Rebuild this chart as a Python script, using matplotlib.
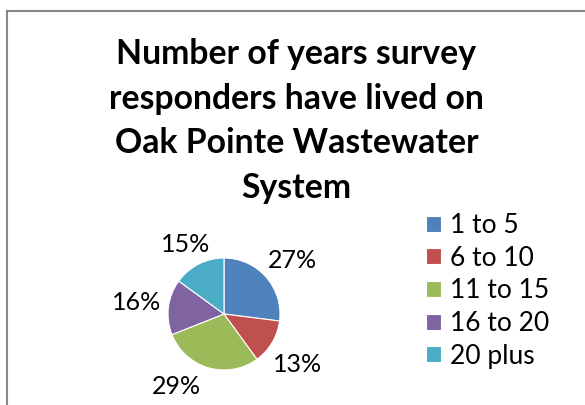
import matplotlib
matplotlib.use("Agg")
import matplotlib.pyplot as plt
from matplotlib.lines import Line2D
import numpy as np

categories = ["1 to 5", "6 to 10", "11 to 15", "16 to 20", "20 plus"]
values = [27, 13, 29, 16, 15]
colors = ["#4F81BD", "#C0504D", "#9BBB59", "#8064A2", "#4BACC6"]
title = "Number of years survey\nresponders have lived on\nOak Pointe Wastewater\nSystem"

# label placement tweaks (angle shift in degrees, radial distance)
label_shift = [-3, -4, -17, 0, 2]
label_dist = [1.55, 1.6, 1.55, 1.57, 1.42]

W, H = 585, 405
fig = plt.figure(figsize=(W / 100, H / 100), dpi=100)
fig.patch.set_facecolor("white")

FONT = "Lato"

# border (left and top)
fig.add_artist(Line2D([6.5 / W, 6.5 / W], [0, 1 - 10.5 / H], transform=fig.transFigure,
                      color="#868686", lw=1.5))
fig.add_artist(Line2D([6.5 / W, 1], [1 - 10.5 / H, 1 - 10.5 / H], transform=fig.transFigure,
                      color="#868686", lw=1.5))

# title
fig.text(296.5 / W, 1 - 38 / H, title, ha="center", va="top", fontsize=24.3,
         fontweight="bold", family=FONT, linespacing=1.49, color="black")

# pie
cx, cy, r = 224, 314, 56
ax = fig.add_axes([(cx - r) / W, (H - cy - r) / H, 2 * r / W, 2 * r / H])
wedges, texts = ax.pie(values, colors=colors, startangle=90, counterclock=False,
                       radius=1, wedgeprops=dict(edgecolor="white", linewidth=0.8))
total = float(sum(values))
for w, v, sh, d in zip(wedges, values, label_shift, label_dist):
    mid = np.deg2rad((w.theta1 + w.theta2) / 2 + sh)
    ax.text(d * np.cos(mid), d * np.sin(mid), "%d%%" % round(100 * v / total),
            ha="center", va="center", fontsize=18, family=FONT, color="black",
            clip_on=False)
ax.set_xlim(-1, 1)
ax.set_ylim(-1, 1)
ax.set_aspect("equal")
ax.axis("off")

# legend
fig.legend(wedges, categories, loc="upper left", bbox_to_anchor=(426 / W, 1 - 213 / H),
           frameon=False, prop=dict(family=FONT, size=19), handlelength=0.55,
           handleheight=0.55, handletextpad=0.35, labelspacing=0.29, borderpad=0,
           borderaxespad=0)

fig.savefig("out.png", dpi=100)
